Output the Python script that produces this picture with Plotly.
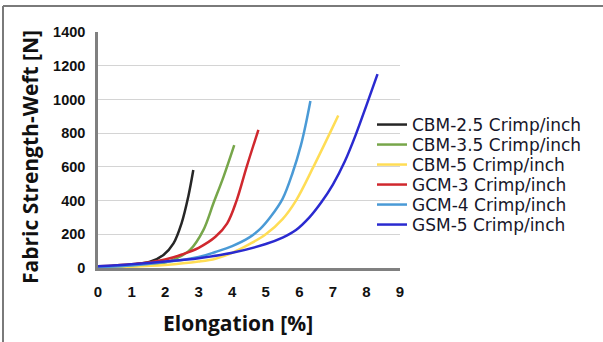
import plotly.graph_objects as go

# Elongation [%] and fabric strength (weft) [N] for each crimp setting
cbm25_x = [0, 0.5, 1, 1.55, 1.95, 2.25, 2.49, 2.69, 2.84]
cbm25_y = [5, 12, 20, 37, 77, 146, 265, 423, 581]

cbm35_x = [0, 1, 1.5, 2, 2.34, 2.74, 3.14, 3.44, 3.74, 4.06]
cbm35_y = [3, 10, 18, 32, 57, 107, 225, 384, 541, 729]

cbm5_x = [0, 1, 2, 3, 3.5, 4, 4.5, 5, 5.5, 5.9, 6.42, 6.91, 7.16]
cbm5_y = [3, 8, 18, 38, 55, 90, 140, 200, 290, 400, 600, 800, 905]

gcm3_x = [0, 0.5, 1, 1.5, 2, 2.5, 3, 3.5, 3.85, 4.13, 4.43, 4.78]
gcm3_y = [10, 15, 22, 32, 50, 80, 120, 185, 265, 400, 600, 820]

gcm4_x = [0, 1, 2, 3, 3.5, 4, 4.5, 4.85, 5.15, 5.5, 5.8, 6.05, 6.2, 6.33]
gcm4_y = [5, 15, 35, 65, 95, 130, 180, 235, 305, 410, 565, 730, 860, 990]

gsm5_x = [0, 1, 2, 3, 4, 5, 5.5, 5.9, 6.3, 6.65, 7.0, 7.35, 7.68, 8.0, 8.33]
gsm5_y = [10, 22, 38, 58, 90, 142, 180, 225, 300, 388, 495, 630, 790, 965, 1150]

series = [
    ("CBM-2.5 Crimp/inch", cbm25_x, cbm25_y, "#262626"),
    ("CBM-3.5 Crimp/inch", cbm35_x, cbm35_y, "#77a64a"),
    ("CBM-5 Crimp/inch", cbm5_x, cbm5_y, "#ffdd55"),
    ("GCM-3 Crimp/inch", gcm3_x, gcm3_y, "#d0282e"),
    ("GCM-4 Crimp/inch", gcm4_x, gcm4_y, "#4a9ad6"),
    ("GSM-5 Crimp/inch", gsm5_x, gsm5_y, "#2a2ad0"),
]

x_ticks = list(range(0, 10))
y_ticks = list(range(0, 1401, 200))

# plot area geometry in pixels
L, R, T, B = 98, 203, 32, 74
W, H = 603, 342
pw, ph = W - L - R, H - T - B


def px(xp):
    return (xp - L) / pw


def py(yp):
    return (H - B - yp) / ph


fig = go.Figure()
legend_layout = {}
for i, (name, xs, ys, color) in enumerate(series):
    key = "legend" if i == 0 else f"legend{i + 1}"
    fig.add_trace(go.Scatter(
        x=xs, y=ys, name=name, mode="lines", legend=key,
        line=dict(color=color, width=2.5, shape="spline", smoothing=1.0),
    ))
    legend_layout[key] = dict(
        x=px(372), y=py(125 + 20 * i), xanchor="left", yanchor="middle",
        font=dict(family="DejaVu Sans", size=17, color="#16162a"),
        bgcolor="rgba(0,0,0,0)", borderwidth=0,
    )

fig.update_layout(
    width=W, height=H,
    margin=dict(l=L, r=R, t=T, b=B, autoexpand=False),
    paper_bgcolor="white", plot_bgcolor="white",
    showlegend=True,
    xaxis=dict(
        range=[0, 9], tickvals=x_ticks, ticktext=[str(v) for v in x_ticks],
        showgrid=False, zeroline=False,
        showline=True, linecolor="#808080", linewidth=2.5,
        ticks="", ticklabelstandoff=8,
        tickfont=dict(family="Arial", size=15, color="#111111", weight="bold"),
    ),
    yaxis=dict(
        range=[0, 1400], tickvals=y_ticks, ticktext=[str(v) for v in y_ticks],
        showgrid=True, gridcolor="#d4d4d4", gridwidth=1.2,
        zeroline=False,
        showline=True, linecolor="#808080", linewidth=2.5,
        ticks="", ticklabelstandoff=7,
        tickfont=dict(family="Arial", size=14.5, color="#111111", weight="bold"),
    ),
    annotations=[
        dict(text="Elongation [%]", xref="paper", yref="paper",
             x=px(238), y=py(323), xanchor="center", yanchor="middle",
             showarrow=False,
             font=dict(family="Open Sans", size=21, color="#111111", weight="bold")),
        dict(text="Fabric Strength-Weft [N]", xref="paper", yref="paper",
             x=px(30), y=py(157), xanchor="center", yanchor="middle",
             textangle=-90, showarrow=False,
             font=dict(family="Open Sans", size=21, color="#111111", weight="bold")),
    ],
    shapes=[
        # legend backdrop hiding the gridlines behind it
        dict(type="rect", xref="paper", yref="paper", layer="between",
             x0=px(365), x1=px(402), y0=py(247), y1=py(112),
             fillcolor="white", line=dict(width=0)),
        # outer frame
        dict(type="line", xref="paper", yref="paper",
             x0=px(3), y0=py(6), x1=px(W + 5), y1=py(6),
             line=dict(color="#7a7a7a", width=2)),
        dict(type="line", xref="paper", yref="paper",
             x0=px(3), y0=py(6), x1=px(3), y1=py(H + 5),
             line=dict(color="#7a7a7a", width=2)),
    ],
    **legend_layout,
)

fig.write_html("out.html")
